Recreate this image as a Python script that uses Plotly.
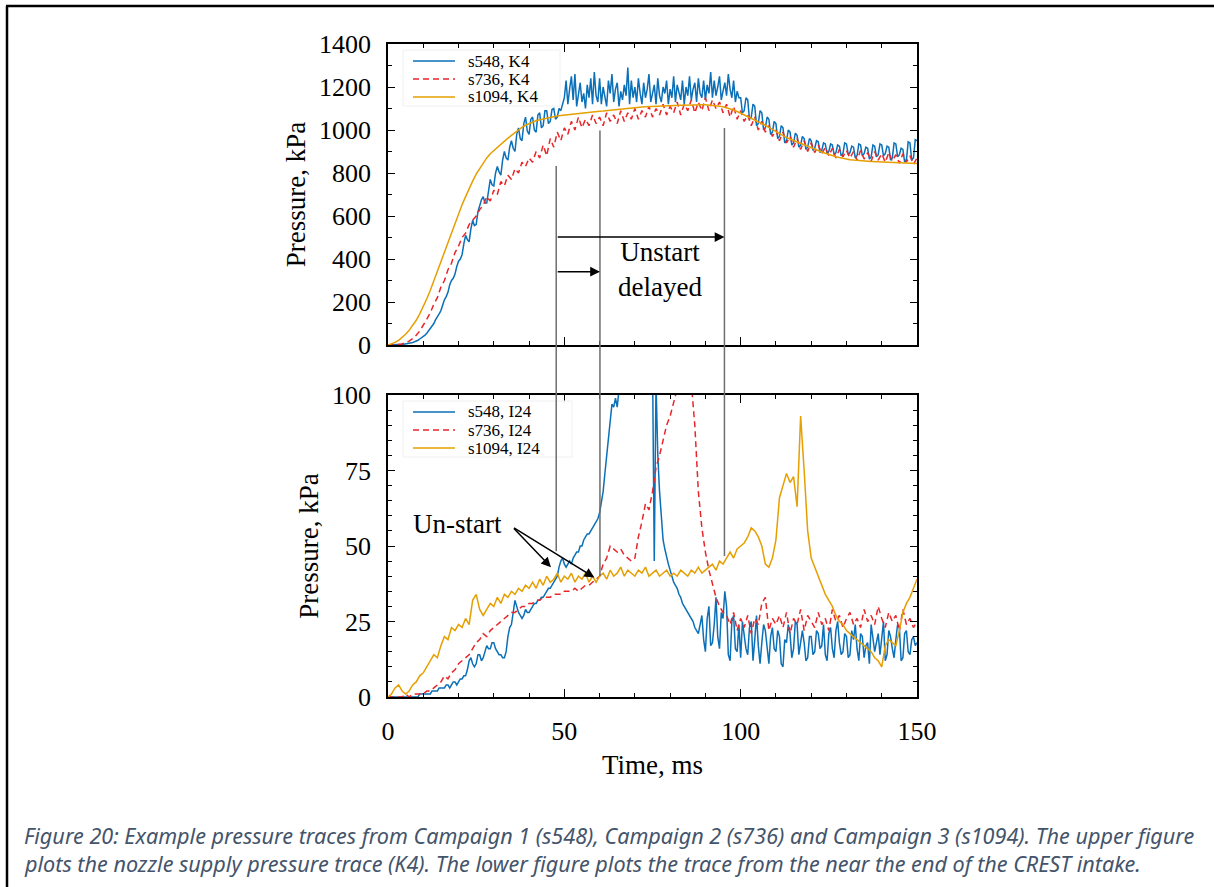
import plotly.graph_objects as go

# ---------------- data ----------------
time_ms = list(range(0, 151))          # 1 ms sampling
time_fine_ms = [i * 0.5 for i in range(301)]   # 0.5 ms sampling (s548 traces)

s1094_K4 = [0, 5, 12, 22, 35, 50, 68, 90, 115, 145, 178,
            215, 255, 300, 345, 390, 435, 480, 525, 570, 612,
            652, 690, 728, 762, 795, 822, 848, 870, 890, 905,
            920, 935, 948, 962, 975, 988, 1000, 1012, 1022, 1030,
            1037, 1043, 1048, 1052, 1056, 1060, 1063, 1065, 1067, 1069,
            1071, 1072, 1074, 1076, 1078, 1080, 1082, 1084, 1086, 1087,
            1088, 1090, 1092, 1094, 1096, 1098, 1100, 1102, 1104, 1105,
            1106, 1107, 1108, 1109, 1110, 1111, 1112, 1112, 1113, 1113,
            1114, 1114, 1115, 1115, 1116, 1116, 1117, 1117, 1118, 1117,
            1116, 1115, 1113, 1111, 1108, 1104, 1099, 1093, 1086, 1078,
            1072, 1064, 1056, 1048, 1040, 1031, 1022, 1012, 1002, 992,
            982, 973, 965, 958, 951, 944, 937, 930, 923, 916,
            910, 904, 898, 892, 886, 881, 876, 872, 868, 865,
            862, 860, 858, 857, 856, 855, 854, 853, 852, 851,
            850, 849, 848, 848, 847, 846, 846, 845, 845, 844]

s548_K4 = [0, 0, 0, 0, 1, 1, 2, 2, 3, 4, 5, 6, 8, 10, 12, 15, 18, 22, 28, 33,
           40, 46, 55, 66, 80, 88, 100, 118, 135, 145, 160, 190, 210, 225, 245, 280, 300, 310, 330, 365,
           390, 400, 420, 470, 510, 490, 480, 540, 580, 555, 560, 620, 650, 675, 690, 660, 660, 720, 770, 745,
           740, 800, 830, 805, 790, 860, 900, 870, 860, 920, 950, 915, 900, 980, 1010, 960, 950, 1030, 1060, 995,
           980, 1050, 1060, 1000, 990, 1070, 1080, 1010, 1020, 1090, 1090, 1030, 1040, 1095, 1100, 1050, 1060, 1100, 1090, 1120,
           1150, 1230, 1120, 1190, 1250, 1140, 1260, 1110, 1180, 1220, 1130, 1170, 1100, 1210, 1150, 1240, 1120, 1270, 1160, 1130,
           1240, 1120, 1200, 1150, 1110, 1230, 1170, 1260, 1130, 1190, 1220, 1110, 1180, 1140, 1210, 1160, 1290, 1120, 1230, 1150,
           1200, 1130, 1240, 1170, 1120, 1220, 1150, 1190, 1260, 1130, 1180, 1210, 1120, 1240, 1160, 1130, 1200, 1170, 1230, 1120,
           1190, 1150, 1250, 1130, 1210, 1180, 1140, 1230, 1120, 1200, 1160, 1250, 1140, 1190, 1220, 1130, 1240, 1170, 1150, 1230,
           1140, 1210, 1170, 1270, 1150, 1230, 1160, 1200, 1250, 1140, 1180, 1220, 1160, 1260, 1190, 1150, 1230, 1130, 1180, 1150,
           1150, 1080, 1090, 1150, 1140, 1050, 1060, 1120, 1110, 1020, 1030, 1090, 1080, 1000, 1010, 1060, 1050, 980, 990, 1040,
           1030, 960, 970, 1020, 1010, 940, 950, 1000, 990, 930, 940, 985, 975, 920, 930, 970, 960, 910, 920, 960,
           950, 905, 915, 950, 945, 895, 905, 940, 935, 890, 900, 935, 930, 885, 895, 930, 925, 880, 890, 940,
           935, 885, 895, 925, 920, 870, 880, 935, 930, 880, 890, 920, 915, 865, 875, 930, 925, 875, 885, 935,
           930, 880, 890, 925, 920, 860, 870, 940, 935, 875, 885, 915, 910, 850, 860, 945, 940, 860, 870, 955,
           950]

s736_K4 = [0, 0, 0, 2, 5, 10, 18, 30, 45, 65, 90,
           120, 150, 190, 220, 270, 300, 350, 380, 430, 460,
           500, 520, 560, 580, 600, 630, 650, 690, 670, 720,
           700, 760, 740, 790, 770, 820, 800, 850, 830, 870,
           850, 900, 870, 930, 880, 960, 920, 990, 950, 1010,
           980, 1040, 1000, 1060, 1010, 1050, 1020, 1070, 1030, 1060,
           1020, 1080, 1040, 1070, 1030, 1090, 1040, 1080, 1050, 1100,
           1050, 1090, 1060, 1110, 1060, 1100, 1070, 1120, 1070, 1110,
           1080, 1130, 1070, 1120, 1090, 1140, 1080, 1130, 1090, 1150,
           1090, 1140, 1100, 1130, 1080, 1120, 1060, 1110, 1050, 1090,
           1040, 1070, 1020, 1060, 1000, 1040, 990, 1020, 970, 1000,
           950, 990, 940, 970, 920, 960, 910, 950, 900, 940,
           895, 930, 890, 920, 880, 915, 870, 910, 875, 905,
           870, 900, 860, 905, 865, 895, 855, 900, 860, 890,
           850, 895, 855, 885, 845, 890, 850, 880, 840, 870]

s548_I24 = [0, 0, 0, 0, 0, 0, 0, 0, 0, 0, 0, 0, 0, 0, 0, 0, 0, 0, 1, 1,
            1, 1, 1, 1, 1, 2, 2, 2, 2, 3, 3, 3, 3, 4, 4, 3, 4, 5, 5, 4,
            5, 6, 6, 7, 7, 9, 12, 13, 11, 10, 11, 14, 14, 12, 13, 15, 17, 16, 16, 18,
            18, 16, 15, 14, 14, 13, 13, 15, 20, 23, 24, 28, 32, 30, 28, 27, 26, 27, 29, 28,
            28, 29, 30, 31, 31, 32, 32, 33, 33, 34, 35, 36, 36, 37, 38, 39, 40, 43, 45, 46,
            44, 43, 44, 45, 44, 46, 47, 48, 48, 50, 50, 52, 53, 54, 54, 55, 56, 57, 58, 59,
            61, 64, 68, 74, 80, 85, 92, 97, 96, 99, 96, 104, 110, 115, 120, 125, 128, 130, 128, 132,
            133, 135, 134, 130, 128, 125, 120, 118, 115, 112, 112, 45, 104, 80, 68, 58, 52, 49, 46, 44,
            42, 40, 38, 37, 36, 34, 33, 31, 30, 29, 28, 27, 26, 25, 23, 22, 21, 24, 27, 19,
            15, 26, 30, 17, 18, 24, 33, 20, 16, 28, 26, 35, 30, 14, 12, 25, 27, 16, 15, 24,
            13, 25, 21, 16, 14, 23, 25, 12, 19, 27, 17, 11, 18, 24, 22, 15, 11, 20, 23, 16,
            15, 22, 20, 11, 10, 19, 18, 24, 21, 13, 16, 25, 24, 14, 19, 22, 18, 12, 13, 20,
            20, 14, 15, 22, 21, 16, 17, 24, 14, 12, 21, 23, 16, 13, 22, 25, 18, 14, 15, 21,
            20, 13, 14, 22, 19, 24, 16, 12, 21, 20, 13, 17, 18, 11, 24, 20, 15, 18, 21, 14,
            20, 25, 12, 14, 22, 20, 16, 13, 19, 24, 23, 12, 13, 21, 22, 15, 14, 19, 20, 17,
            18]

s736_I24 = [0, 0, 0, 0, 0, 1, 0, 1, 1, 1, 1,
            2, 2, 3, 4, 5, 7, 6, 8, 9, 11,
            12, 13, 14, 16, 18, 19, 21, 20, 22, 23,
            24, 25, 26, 27, 28, 28, 29, 30, 30, 31,
            31, 32, 32, 33, 33, 33, 34, 34, 34, 35,
            35, 35, 36, 35, 36, 37, 37, 38, 39, 40,
            44, 46, 50, 49, 48, 49, 47, 46, 45, 46,
            53, 58, 64, 62, 68, 76, 80, 85, 90, 93,
            97, 102, 110, 115, 112, 104, 90, 68, 56, 48,
            42, 37, 33, 30, 28, 27, 24, 28, 22, 26,
            23, 27, 21, 26, 24, 31, 33, 22, 26, 24,
            27, 23, 28, 21, 26, 24, 29, 22, 27, 25,
            23, 28, 24, 26, 22, 29, 25, 27, 23, 26,
            28, 24, 26, 23, 29, 25, 27, 24, 30, 26,
            23, 28, 25, 27, 22, 29, 24, 26, 23, 25]

s1094_I24 = [0, 1, 3, 4, 2, 1, 2, 4, 5, 7, 8,
             10, 12, 14, 13, 17, 20, 19, 23, 22, 24,
             23, 26, 24, 32, 34, 29, 27, 29, 31, 30,
             33, 31, 34, 33, 35, 34, 36, 35, 37, 36,
             38, 36, 39, 37, 40, 38, 39, 41, 38, 40,
             39, 41, 38, 40, 39, 41, 38, 40, 38, 40,
             41, 39, 42, 40, 41, 43, 40, 42, 41, 40,
             42, 41, 43, 40, 41, 42, 40, 41, 42, 40,
             41, 40, 42, 41, 40, 42, 41, 43, 41, 42,
             43, 44, 42, 45, 44, 46, 48, 46, 49, 50,
             51, 53, 56, 55, 53, 50, 44, 43, 46, 52,
             66, 70, 74, 71, 73, 63, 93, 75, 55, 46,
             43, 40, 37, 34, 32, 30, 27, 25, 24, 22,
             21, 20, 19, 18, 17, 16, 15, 13, 12, 10,
             17, 19, 18, 17, 22, 28, 31, 33, 36, 39]

upper_names = ["s548, K4", "s736, K4", "s1094, K4"]
lower_names = ["s548, I24", "s736, I24", "s1094, I24"]
x_tickvals = [0, 50, 100, 150]

# unstart markers: time, upper-plot top (kPa), lower-plot bottom (kPa)
marker_t = [47.7, 60.1, 95.4]
marker_top = [833, 998, 1009]
marker_bot = [48.3, 40.0, 46.7]

caption1 = ("Figure 20: Example pressure traces from Campaign 1 (s548), Campaign 2 (s736) "
            "and Campaign 3 (s1094). The upper figure")
caption2 = ("plots the nozzle supply pressure trace (K4). The lower figure plots the trace "
            "from the near the end of the CREST intake.")

# ---------------- styling / layout ----------------
W, H = 1214, 887
L, R, T, B = 388, 917, 44, 697
UP_BOT = 345
LO_TOP = 395
pw, ph = R - L, B - T
up_dom = [(B - UP_BOT) / ph, 1.0]
lo_dom = [0.0, (B - LO_TOP) / ph]


def px(x):
    return (x - L) / pw


def py(y):
    return (B - y) / ph


BLUE = "#0b70b8"
RED = "#e8262a"
ORANGE = "#e69f00"
SERIF = "Liberation Serif, Times New Roman, serif"

styles = [dict(color=BLUE, width=1.5),
          dict(color=RED, width=1.5, dash="6px,4px"),
          dict(color=ORANGE, width=1.5)]

fig = go.Figure()
upper_x = [time_fine_ms[:len(s548_K4)], time_ms, time_ms]
lower_x = [time_fine_ms[:len(s548_I24)], time_ms, time_ms]
for name, xs, ys, st in zip(upper_names, upper_x, [s548_K4, s736_K4, s1094_K4], styles):
    fig.add_trace(go.Scatter(x=xs, y=ys, mode="lines", name=name, line=st,
                             xaxis="x", yaxis="y", showlegend=False))
for name, xs, ys, st in zip(lower_names, lower_x, [s548_I24, s736_I24, s1094_I24], styles):
    fig.add_trace(go.Scatter(x=xs, y=ys, mode="lines", name=name, line=st,
                             xaxis="x2", yaxis="y2", showlegend=False))

axis_common = dict(showline=True, linecolor="black", linewidth=1.5, mirror="allticks",
                   ticks="inside", tickcolor="black", tickwidth=1, showgrid=False,
                   zeroline=False, tickfont=dict(family=SERIF, size=26, color="black"))

fig.update_layout(
    width=W, height=H,
    margin=dict(l=L, r=W - R, t=T, b=H - B),
    paper_bgcolor="white", plot_bgcolor="white",
    showlegend=False,
    xaxis=dict(domain=[0, 1], range=[0, 150], anchor="y", showticklabels=False,
               tickvals=x_tickvals, ticklen=8,
               minor=dict(dtick=10, ticks="inside", ticklen=4, tickcolor="black"),
               **axis_common),
    yaxis=dict(domain=up_dom, range=[0, 1400], anchor="x", dtick=200, ticklen=7,
               ticklabelstandoff=10,
               minor=dict(dtick=100, ticks="inside", ticklen=4, tickcolor="black"),
               title=dict(text="Pressure, kPa", font=dict(family=SERIF, size=27, color="black"),
                          standoff=6),
               **axis_common),
    xaxis2=dict(domain=[0, 1], range=[0, 150], anchor="y2", tickvals=x_tickvals,
                ticklen=8, ticklabelstandoff=10,
                minor=dict(dtick=10, ticks="inside", ticklen=4, tickcolor="black"),
                title=dict(text="Time, ms", font=dict(family=SERIF, size=27, color="black"),
                           standoff=10),
                **axis_common),
    yaxis2=dict(domain=lo_dom, range=[0, 100], anchor="x2", dtick=25, ticklen=7,
                ticklabelstandoff=10,
                minor=dict(dtick=5, ticks="inside", ticklen=4, tickcolor="black"),
                title=dict(text="Pressure, kPa", font=dict(family=SERIF, size=27, color="black"),
                           standoff=6),
                **axis_common),
)

shapes = []
ann = []

# legends (drawn as keys in the top-left corner of each panel)
def add_key(names, rows_px, box_px):
    x0, y0, x1, y1 = box_px
    shapes.append(dict(type="rect", xref="paper", yref="paper", x0=px(x0), x1=px(x1),
                       y0=py(y1), y1=py(y0), fillcolor="rgba(255,255,255,0.9)",
                       line=dict(color="#f0f0f0", width=1), layer="above"))
    for name, st, yr in zip(names, styles, rows_px):
        shapes.append(dict(type="line", xref="paper", yref="paper", x0=px(413), x1=px(455),
                           y0=py(yr), y1=py(yr), line=st, layer="above"))
        ann.append(dict(x=px(466), y=py(yr), xref="paper", yref="paper", xanchor="left",
                        yanchor="middle", text=name, showarrow=False,
                        font=dict(family=SERIF, size=17, color="black")))


add_key(upper_names, [61, 79, 97], (403, 50, 560, 106))
add_key(lower_names, [412, 430, 448], (403, 401, 572, 457))

# vertical unstart marker lines spanning both panels
for t, top, bot in zip(marker_t, marker_top, marker_bot):
    y_top = up_dom[0] + top / 1400 * (up_dom[1] - up_dom[0])
    y_bot = lo_dom[0] + bot / 100 * (lo_dom[1] - lo_dom[0])
    shapes.append(dict(type="line", xref="x", yref="paper", x0=t, x1=t, y0=y_bot, y1=y_top,
                       line=dict(color="#6e6e6e", width=1.5), layer="above"))
# page frame (top and left edges)
shapes.append(dict(type="line", xref="paper", yref="paper", x0=px(6), x1=px(W), y0=py(6), y1=py(6),
                   line=dict(color="black", width=2.5)))
shapes.append(dict(type="line", xref="paper", yref="paper", x0=px(7), x1=px(7), y0=py(6), y1=py(H),
                   line=dict(color="black", width=2.5)))
fig.update_layout(shapes=shapes)

# upper arrows
for t_end, yv in [(marker_t[2], 502), (marker_t[1], 341)]:
    ann.append(dict(x=t_end, y=yv, xref="x", yref="y", ax=marker_t[0], ay=yv,
                    axref="x", ayref="y", showarrow=True, arrowhead=2, arrowsize=1.3,
                    arrowwidth=1.5, arrowcolor="black", text=""))
ann.append(dict(x=77.1, y=349, xref="x", yref="y", text="Unstart<br>delayed", showarrow=False,
                font=dict(family=SERIF, size=27, color="black")))
# lower arrows
for hx, hy in [(46.2, 43.0), (58.5, 39.6)]:
    ann.append(dict(x=hx, y=hy, xref="x2", yref="y2", ax=35.3, ay=56.3, axref="x2", ayref="y2",
                    showarrow=True, arrowhead=2, arrowsize=1.3, arrowwidth=1.5,
                    arrowcolor="black", text=""))
ann.append(dict(x=19.6, y=57.3, xref="x2", yref="y2", text="Un-start", showarrow=False,
                font=dict(family=SERIF, size=27, color="black")))
# caption
cap_font = dict(family="Noto Sans, sans-serif", size=21.6, color="#44546a")
ann.append(dict(x=px(22), y=py(835), xref="paper", yref="paper", xanchor="left", yanchor="middle",
                text="<i>" + caption1 + "</i>", showarrow=False, font=cap_font))
ann.append(dict(x=px(22), y=py(863), xref="paper", yref="paper", xanchor="left", yanchor="middle",
                text="<i>" + caption2 + "</i>", showarrow=False, font=cap_font))
fig.update_layout(annotations=ann)

fig.write_html("out.html")
